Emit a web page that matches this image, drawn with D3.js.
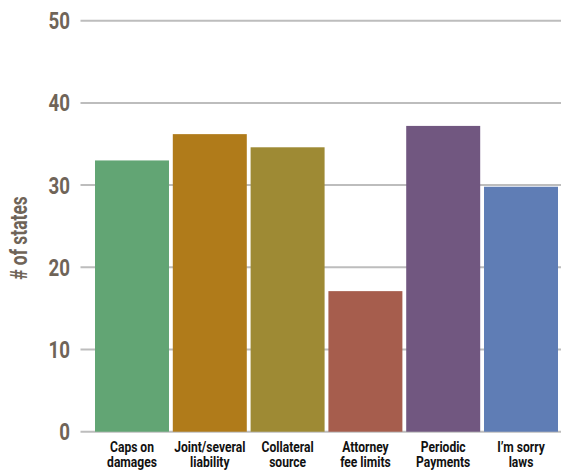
<!DOCTYPE html>
<html><head><meta charset="utf-8">
<script src="https://cdn.jsdelivr.net/npm/d3@7"></script>
<style>
html,body{margin:0;padding:0;background:#fff;}
svg{display:block;}
.f{font-family:"Roboto","Liberation Sans",sans-serif;font-weight:bold;}
</style></head>
<body>
<script>
const categories = [["Caps on","damages"],["Joint/several","liability"],["Collateral","source"],["Attorney","fee limits"],["Periodic","Payments"],["I\u2019m sorry","laws"]];
const values = [33, 36.2, 34.6, 17.1, 37.2, 29.8];
const colors = ["#62a574","#b07b1a","#9e8a34","#a65d4d","#715780","#5f7db5"];
const yTicks = [0,10,20,30,40,50];
const yTitle = "# of states";

const W = 561, H = 470;
const SX = 0.78;
const svg = d3.select("body").append("svg").attr("width", W).attr("height", H);

const y = d3.scaleLinear().domain([0,50]).range([431.7, 20.7]);
const x = d3.scaleBand().domain(d3.range(categories.length)).range([95,558]).paddingInner(0.049).paddingOuter(0);

// gridlines
svg.append("g").selectAll("line").data(yTicks).join("line")
  .attr("x1", 80.5).attr("x2", W)
  .attr("y1", d => y(d)).attr("y2", d => y(d))
  .attr("stroke", "#bdbdbd").attr("stroke-width", 2);

// tick labels
svg.append("g").selectAll("text").data(yTicks).join("text")
  .attr("class","f")
  .attr("transform", d => `translate(70,${y(d) + 8.5}) scale(${SX},1)`)
  .attr("text-anchor","end")
  .attr("fill","#6f6458")
  .attr("font-size", 24)
  .text(d => d);

// bars
svg.append("g").selectAll("rect").data(values).join("rect")
  .attr("x", (d,i) => x(i))
  .attr("width", x.bandwidth())
  .attr("y", d => y(d))
  .attr("height", d => y(0) - y(d))
  .attr("fill", (d,i) => colors[i]);

// category labels (one text per line)
const lines = [];
categories.forEach((c,i) => c.forEach((t,j) => lines.push({i, j, t})));
svg.append("g").selectAll("text").data(lines).join("text")
  .attr("class","f")
  .attr("transform", d => `translate(${x(d.i) + x.bandwidth()/2},${452 + d.j*14.5}) scale(${SX},1)`)
  .attr("text-anchor","middle")
  .attr("font-size", 15.5)
  .attr("fill","#111")
  .text(d => d.t);

// y title
svg.append("text").attr("class","f")
  .attr("transform","translate(27,238) rotate(-90) scale(0.76,1)")
  .attr("text-anchor","middle")
  .attr("fill","#6f6458")
  .attr("font-size", 23)
  .text(yTitle);
</script>
</body></html>
